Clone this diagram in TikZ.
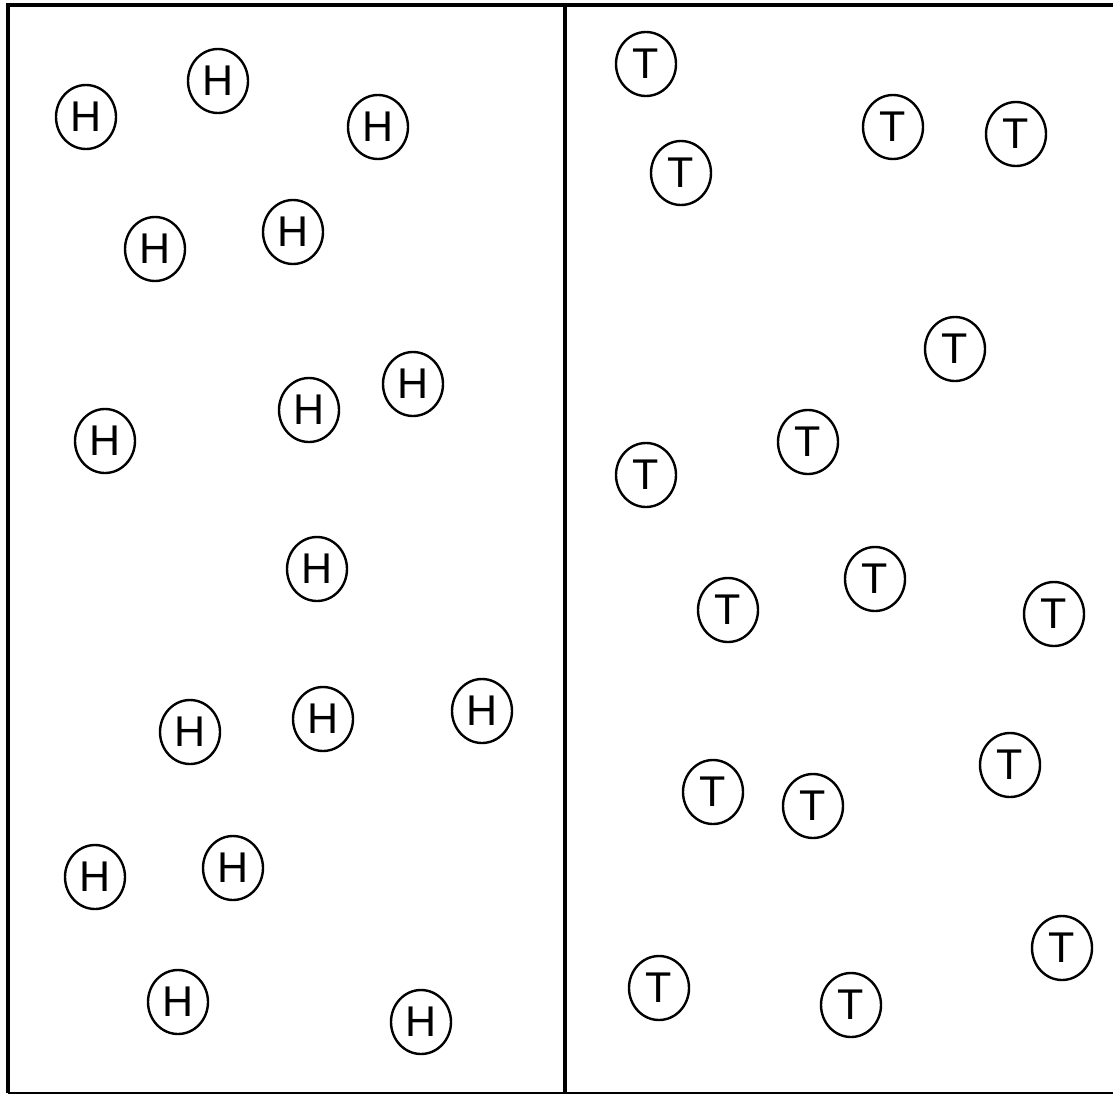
\documentclass[tikz,border=0pt]{standalone}
\usepackage{fontspec}
\setmainfont{Liberation Sans}
\usetikzlibrary{shapes.geometric}

\begin{document}
\begin{tikzpicture}[
  x=1pt, y=-1pt,
  coin/.style = {draw, ellipse, line width=2.4pt, inner sep=0pt,
    minimum width=60pt, minimum height=64pt,
    font=\fontsize{43}{43}\selectfont},
  wall/.style = {line width=3.5pt},
]
\useasboundingbox (0,0) rectangle (1113,1095);
% frame (open on the right) and divider
\draw[wall] (1113,5) -- (8,5) -- (8,1093);
\draw[line width=2pt] (8,1093) -- (1113,1093);
\draw[wall] (565,5) -- (565,1093);
% heads on the left
\foreach \x/\y [count=\i] in {86/117, 218/81, 378/127, 155/249, 293/232,
    105/441, 309/410, 413/384, 317/569, 190/732, 323/719, 482/711,
    95/877, 233/868, 178/1002, 421/1022}
  \node[coin] (h\i) at (\x,\y) {H};
% tails on the right
\foreach \x/\y [count=\i] in {646/64, 681/173, 893/127, 1016/134, 955/349,
    808/442, 646/475, 728/610, 875/579, 1054/614, 713/792, 813/806,
    1010/765, 1062/948, 659/988, 851/1005}
  \node[coin] (t\i) at (\x,\y) {T};
\end{tikzpicture}
\end{document}
